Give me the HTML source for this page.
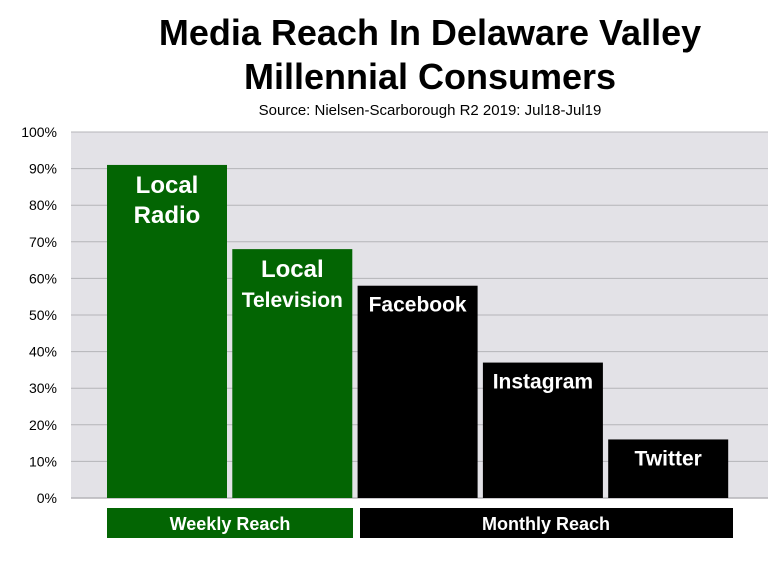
<!DOCTYPE html>
<html><head><meta charset="utf-8"><style>
body{margin:0;background:#fff;width:780px;height:558px;overflow:hidden;font-family:"Liberation Sans",sans-serif}
</style></head><body>
<svg width="780" height="558">
<text x="430" y="45" text-anchor="middle" font-size="36" font-weight="bold">Media Reach In Delaware Valley</text>
<text x="430" y="89" text-anchor="middle" font-size="36" font-weight="bold">Millennial Consumers</text>
<text x="430" y="115" text-anchor="middle" font-size="15">Source: Nielsen-Scarborough R2 2019: Jul18-Jul19</text>
<rect x="71" y="132" width="697" height="366" fill="#e3e2e7"/>
<g id="grid"></g><g id="bars"></g>
<rect x="107" y="508" width="246" height="30" fill="#036503"/>
<text x="230" y="530" text-anchor="middle" fill="#fff" font-size="18" font-weight="bold">Weekly Reach</text>
<rect x="360" y="508" width="373" height="30" fill="#000"/>
<text x="546" y="530" text-anchor="middle" fill="#fff" font-size="18" font-weight="bold">Monthly Reach</text>
</svg>
<script>
const categories=[["Local","Radio"],["Local","Television"],["Facebook"],["Instagram"],["Twitter"]];
const values=[91,68,58,37,16];
const colors=["#036503","#036503","#000","#000","#000"];
const ticks=[0,10,20,30,40,50,60,70,80,90,100];
const NS="http://www.w3.org/2000/svg";
const y=v=>498-v*3.66;
const x=i=>107+i*125.3;
const g=document.getElementById('grid'),b=document.getElementById('bars');
ticks.forEach(t=>{
 const l=document.createElementNS(NS,'line');
 
 
 l.setAttribute('x1',71);l.setAttribute('x2',768);l.setAttribute('y1',y(t));l.setAttribute('y2',y(t));
 l.setAttribute('stroke','#b5b4b8');l.setAttribute('stroke-width',t===0?1.5:1);g.appendChild(l);
 const tx=document.createElementNS(NS,'text');
 
 
 tx.setAttribute('x',57);tx.setAttribute('y',y(t)+5);tx.setAttribute('text-anchor','end');tx.setAttribute('font-size','14');
 tx.textContent=t+'%';g.appendChild(tx);
});
values.forEach((v,i)=>{
 const r=document.createElementNS(NS,'rect');
 
 
 r.setAttribute('x',x(i));r.setAttribute('width',120);r.setAttribute('y',y(v));r.setAttribute('height',498-y(v));
 r.setAttribute('fill',colors[i]);b.appendChild(r);
 const two=categories[i].length>1;
 categories[i].forEach((w,j)=>{
  const t=document.createElementNS(NS,'text');
  
  
  t.setAttribute('x',x(i)+60);t.setAttribute('y',y(v)+(two?28:26)+j*30);
  t.setAttribute('text-anchor','middle');t.setAttribute('fill','#fff');t.setAttribute('font-weight','bold');
  t.setAttribute('font-size',two?(w.length>6?21:24):21);
  t.textContent=w;b.appendChild(t);
 });
});
</script>
</body></html>
